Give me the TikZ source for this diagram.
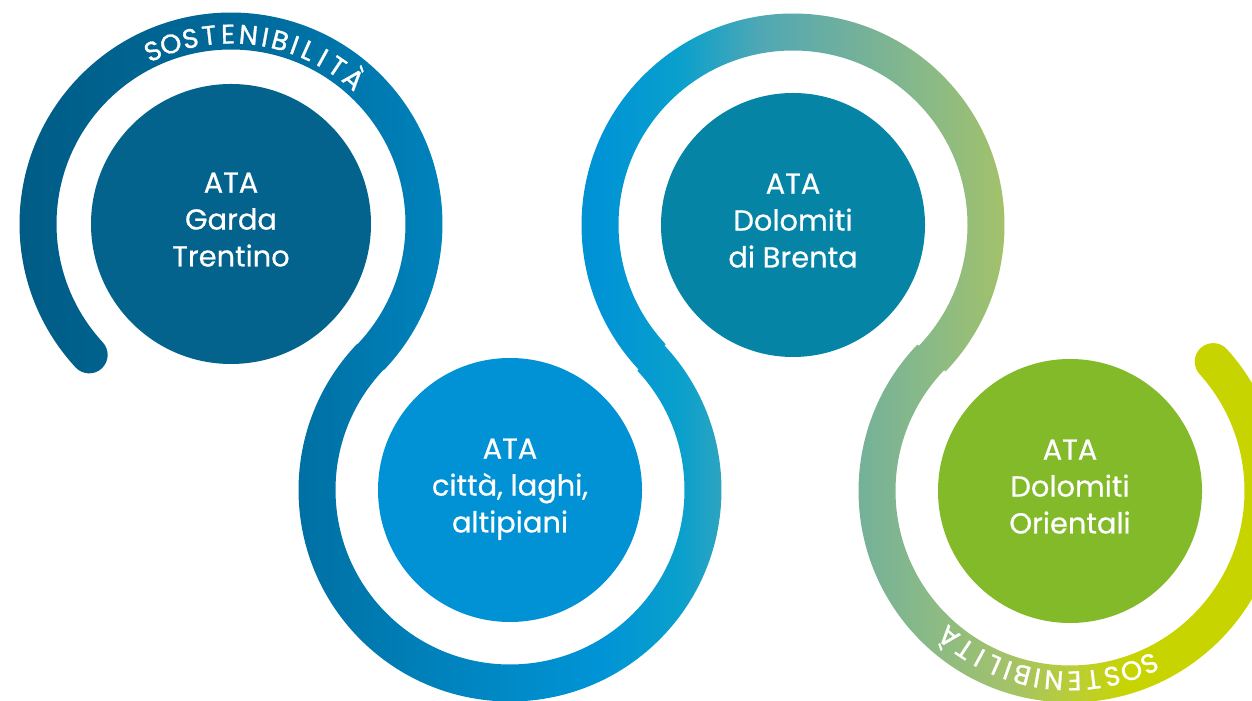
\documentclass[tikz,border=0pt]{standalone}
\usepackage{fontspec}
\setmainfont{Poppins}[FakeBold=0.6]
\newfontfamily\bandfont{Poppins}[FakeBold=1.2]
\usetikzlibrary{calc}

\definecolor{gardablue}{HTML}{03638C}
\definecolor{cittablue}{HTML}{0092D5}
\definecolor{brentablue}{HTML}{0584A6}
\definecolor{orientaligreen}{HTML}{82BA29}
\definecolor{bandA}{HTML}{005A85}
\definecolor{bandB}{HTML}{005F8A}
\definecolor{bandC}{HTML}{006A9B}
\definecolor{bandD}{HTML}{0082BC}
\definecolor{bandE}{HTML}{0094D6}
\definecolor{bandF}{HTML}{0AA0CC}
\definecolor{bandG}{HTML}{50A8B4}
\definecolor{bandH}{HTML}{72B09C}
\definecolor{bandI}{HTML}{90BC80}
\definecolor{bandJ}{HTML}{A4C268}
\definecolor{bandK}{HTML}{BCCF30}
\definecolor{bandL}{HTML}{C8D400}

\pgfdeclarehorizontalshading{bandshade}{100bp}{color(0bp)=(bandA); color(25bp)=(bandA); color(27.4bp)=(bandB); color(35bp)=(bandC); color(42.6bp)=(bandD); color(49bp)=(bandE); color(52.2bp)=(bandF); color(55.4bp)=(bandG); color(59bp)=(bandH); color(62.9bp)=(bandI); color(65.3bp)=(bandJ); color(68.1bp)=(bandK); color(70.1bp)=(bandL); color(75bp)=(bandL); color(100bp)=(bandL)}

\tikzstyle{ata} = [circle, minimum size=264bp, inner sep=0pt, align=center, text=white, text depth=9bp, font=\fontsize{29}{37}\selectfont]
\tikzstyle{bandletter} = [anchor=base, inner sep=0pt, text=white, font=\bandfont\fontsize{27}{27}\selectfont]

\begin{document}
\begin{tikzpicture}[x=1bp, y=1bp, node distance=279bp]
        \useasboundingbox (0,0) rectangle (1252,701);

        \node (garda) [ata, minimum size=280bp, fill=gardablue] at (231,477) {ATA\\Garda\\Trentino};
        \node (citta) [ata, fill=cittablue, right of=garda, yshift=-266bp] {ATA\\città, laghi,\\altipiani};
        \node (brenta) [ata, fill=brentablue, right of=citta, xshift=4bp, yshift=265bp] {ATA\\Dolomiti\\di Brenta};
        \node (orientali) [ata, fill=orientaligreen, right of=brenta, xshift=-2bp, yshift=-266bp] {ATA\\Dolomiti\\Orientali};

        % the winding band
        \begin{scope}
          \clip ($(garda.center)+(222.7:211.5)$)
            arc[start angle=222.7, end angle=-43.64, radius=211.5]
            -- ($(citta.center)+(136.36:174.5)$)
            arc[start angle=136.36, end angle=403.12, radius=174.5]
            -- ($(brenta.center)+(223.12:211.5)$)
            arc[start angle=223.12, end angle=-43.84, radius=211.5]
            -- ($(orientali.center)+(136.16:174.5)$)
            arc[start angle=136.16, end angle=402.1, radius=174.5]
            arc[start angle=222.1, end angle=42.1, radius=18.5]
            arc[start angle=402.1, end angle=136.16, radius=211.5]
            -- ($(brenta.center)+(-43.84:174.5)$)
            arc[start angle=-43.84, end angle=223.12, radius=174.5]
            -- ($(citta.center)+(403.12:211.5)$)
            arc[start angle=403.12, end angle=136.36, radius=211.5]
            -- ($(garda.center)+(-43.64:174.5)$)
            arc[start angle=-43.64, end angle=222.7, radius=174.5]
            arc[start angle=42.7, end angle=-137.3, radius=18.5]
            -- cycle;
          \shade [shading=bandshade] (0,0) rectangle (1252,701);
        \end{scope}

        % the word on the band, one letter at a time
        \foreach \ch/\a [count=\i] in {S/0, O/5.8, S/11.9, T/17.7, E/23.4, N/29.6, I/34.7, B/39.3, I/43.9, L/48.3, I/53.2, T/58.3, À/64.5} {
          \node (topword\i) [bandletter, rotate=114.3-\a-90] at ($(garda.center)+(114.3-\a:180.5)$) {\ch};
          \node (bottomword\i) [bandletter, rotate=-65.3-\a-90] at ($(orientali.center)+(-65.3-\a:180.5)$) {\ch};
        }

\end{tikzpicture}
\end{document}
